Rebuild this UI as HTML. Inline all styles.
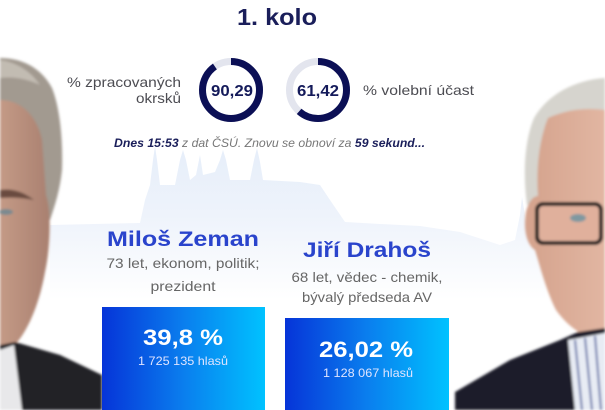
<!DOCTYPE html>
<html><head><meta charset="utf-8"><style>
html,body{margin:0;padding:0;background:#fff;width:605px;height:410px;overflow:hidden}
svg{display:block}
text{font-family:"Liberation Sans",sans-serif}
</style></head><body>
<svg width="605" height="410" viewBox="0 0 605 410" xmlns="http://www.w3.org/2000/svg">
<defs>
<linearGradient id="sky" x1="0" y1="0" x2="0" y2="1">
<stop offset="0" stop-color="#e6eefa"/><stop offset="0.45" stop-color="#eef3fb"/><stop offset="1" stop-color="#ffffff"/>
</linearGradient>
<linearGradient id="box" x1="0" y1="0" x2="1" y2="0">
<stop offset="0" stop-color="#0634d8"/><stop offset="0.5" stop-color="#0a7eee"/><stop offset="1" stop-color="#00c2ff"/>
</linearGradient>
<linearGradient id="skinL" x1="0" y1="0" x2="1" y2="0">
<stop offset="0" stop-color="#c49a86"/><stop offset="1" stop-color="#a98070"/>
</linearGradient>
<linearGradient id="skinR" x1="0" y1="0" x2="1" y2="0">
<stop offset="0" stop-color="#d4a28c"/><stop offset="1" stop-color="#e2b6a2"/>
</linearGradient>
<filter id="bl"><feGaussianBlur stdDeviation="1.2"/></filter>
</defs>

<!-- skyline -->
<path d="M50,225 L140,223 L145,200 L150,185 L153,160 L155,146 L157,160 L160,185 L175,185 L180,160 L183,150 L186,160 L190,180 L196,175 L200,155 L203,175 L215,172 L220,160 L223,150 L226,160 L230,180 L250,180 L254,160 L257,148 L260,162 L263,180 L300,182 L320,185 L330,200 L345,222 L380,224 L420,226 L460,232 L500,245 L515,240 L520,215 L522,197 L525,215 L530,245 L545,250 L545,300 L50,300 Z" fill="url(#sky)"/>

<!-- left person -->
<g filter="url(#bl)">
<path d="M0,58 C20,58 40,66 52,88 C60,108 63,140 62,170 C60,190 55,205 50,220 L0,230 Z" fill="#a29a90"/>
<path d="M0,60 C15,62 30,70 40,85 C30,80 15,76 0,78 Z" fill="#c2bcb2"/>
<path d="M0,100 C18,100 36,112 42,140 L46,195 C52,212 50,250 45,272 C40,300 30,328 15,345 L0,350 Z" fill="url(#skinL)"/>
<path d="M0,190 C12,188 24,192 34,200 C24,198 12,197 0,198 Z" fill="#6a4c40"/>
<ellipse cx="6" cy="212" rx="7" ry="3" fill="#7a8a90"/>
<path d="M0,345 L15,342 L60,355 L102,375 L102,410 L0,410 Z" fill="#222228"/>
<path d="M0,350 L14,345 L22,410 L0,410 Z" fill="#e8e8ea"/>
</g>

<!-- right person -->
<g filter="url(#bl)">
<path d="M605,78 C575,80 548,94 534,118 C524,142 523,175 527,205 L545,205 L548,120 L605,110 Z" fill="#d6d4ce"/>
<path d="M548,118 C570,108 590,108 605,110 L605,345 C590,340 570,330 556,310 C546,290 540,266 535,250 C527,245 523,230 526,212 C529,200 534,196 538,196 C536,170 539,140 548,118 Z" fill="url(#skinR)"/>
<rect x="537" y="204" width="64" height="39" rx="6" fill="#e0b09c" stroke="#1e1e1e" stroke-width="4"/>
<ellipse cx="578" cy="218" rx="8" ry="4" fill="#7f98a0"/>
<path d="M455,392 L510,360 L560,340 L578,332 L605,328 L605,410 L455,410 Z" fill="#1d1f2c"/>
<path d="M568,340 L605,333 L605,410 L575,410 Z" fill="#e8ecf4"/>
<path d="M575,340 L582,410 M585,338 L592,410 M595,336 L601,410" stroke="#6070a8" stroke-width="2"/>
</g>

<!-- title -->
<text x="277" y="25" text-anchor="middle" font-size="23" font-weight="bold" fill="#1a1e5a" textLength="80" lengthAdjust="spacingAndGlyphs">1. kolo</text>

<!-- left label -->
<text x="181" y="87" text-anchor="end" font-size="14" fill="#4c4c52" textLength="114" lengthAdjust="spacingAndGlyphs">% zpracovaných</text>
<text x="181" y="103" text-anchor="end" font-size="14" fill="#4c4c52" textLength="45" lengthAdjust="spacingAndGlyphs">okrsků</text>

<!-- donuts -->
<circle cx="231" cy="90" r="28.5" fill="none" stroke="#e3e5ee" stroke-width="7"/>
<circle cx="231" cy="90" r="28.5" fill="none" stroke="#0b0f55" stroke-width="7" stroke-dasharray="161.7 200" transform="rotate(-90 231 90)"/>
<text x="232" y="96" text-anchor="middle" font-size="16" font-weight="bold" fill="#141a5a" textLength="42" lengthAdjust="spacingAndGlyphs">90,29</text>

<circle cx="318" cy="90" r="28.5" fill="none" stroke="#e3e5ee" stroke-width="7"/>
<circle cx="318" cy="90" r="28.5" fill="none" stroke="#0b0f55" stroke-width="7" stroke-dasharray="110 200" transform="rotate(-90 318 90)"/>
<text x="318" y="96" text-anchor="middle" font-size="16" font-weight="bold" fill="#141a5a" textLength="42" lengthAdjust="spacingAndGlyphs">61,42</text>

<text x="363" y="95" font-size="14" fill="#4c4c52" textLength="111" lengthAdjust="spacingAndGlyphs">% volební účast</text>

<!-- update line -->
<text x="114" y="147" font-size="12" font-style="italic" fill="#777" textLength="311" lengthAdjust="spacingAndGlyphs"><tspan font-weight="bold" fill="#1a1e5a">Dnes 15:53</tspan> z dat ČSÚ. Znovu se obnoví za <tspan font-weight="bold" fill="#1a1e5a">59 sekund...</tspan></text>

<!-- candidate 1 -->
<text x="183" y="246" text-anchor="middle" font-size="21" font-weight="bold" fill="#2a44cc" textLength="152" lengthAdjust="spacingAndGlyphs">Miloš Zeman</text>
<text x="183" y="268" text-anchor="middle" font-size="14" fill="#666" textLength="153" lengthAdjust="spacingAndGlyphs">73 let, ekonom, politik;</text>
<text x="183" y="291" text-anchor="middle" font-size="14" fill="#666" textLength="65" lengthAdjust="spacingAndGlyphs">prezident</text>

<!-- candidate 2 -->
<text x="367" y="257" text-anchor="middle" font-size="21" font-weight="bold" fill="#2a44cc" textLength="128" lengthAdjust="spacingAndGlyphs">Jiří Drahoš</text>
<text x="367" y="282" text-anchor="middle" font-size="14" fill="#666" textLength="151" lengthAdjust="spacingAndGlyphs">68 let, vědec - chemik,</text>
<text x="367" y="302" text-anchor="middle" font-size="14" fill="#666" textLength="130" lengthAdjust="spacingAndGlyphs">bývalý předseda AV</text>

<!-- boxes -->
<rect x="102" y="307" width="163" height="110" fill="url(#box)"/>
<text x="183" y="345" text-anchor="middle" font-size="22" font-weight="bold" fill="#fff" textLength="80" lengthAdjust="spacingAndGlyphs">39,8 %</text>
<text x="183" y="365" text-anchor="middle" font-size="12" fill="#dfe4ff" textLength="90" lengthAdjust="spacingAndGlyphs">1 725 135 hlasů</text>

<rect x="285" y="318" width="164" height="100" fill="url(#box)"/>
<text x="366" y="357" text-anchor="middle" font-size="22" font-weight="bold" fill="#fff" textLength="94" lengthAdjust="spacingAndGlyphs">26,02 %</text>
<text x="368" y="377" text-anchor="middle" font-size="12" fill="#dfe4ff" textLength="90" lengthAdjust="spacingAndGlyphs">1 128 067 hlasů</text>
</svg>
</body></html>
